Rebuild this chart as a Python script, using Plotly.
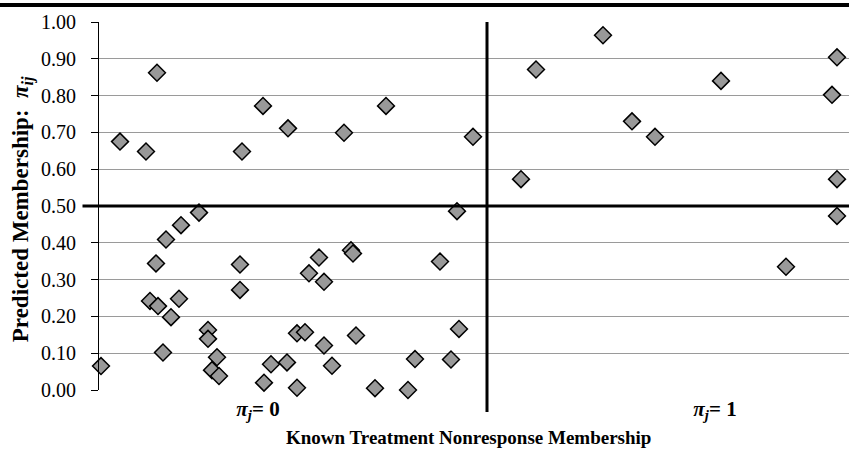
import plotly.graph_objects as go

# Left group: known membership pi_j = 0 ; right group: pi_j = 1
x_left = [2.1, 4.7, 5.8, 14.3, 16.4, 18.9, 24.5, 28.7, 37.4,
          0.2, 5.1, 5.7, 5.9, 6.7, 6.4, 7.2, 8.2, 8.0, 10.0, 10.9, 10.9,
          11.8, 11.3, 12.0, 14.1, 14.1, 16.5, 17.2, 18.8, 19.8, 19.8, 20.6,
          21.0, 22.0, 22.5, 22.5, 23.3, 25.2, 25.4, 25.7, 27.6, 30.9, 31.6,
          34.1, 35.2, 35.8, 36.0]
y_left = [0.675, 0.648, 0.862, 0.648, 0.772, 0.711, 0.699, 0.772, 0.688,
          0.065, 0.242, 0.344, 0.228, 0.409, 0.102, 0.198, 0.448, 0.248, 0.482, 0.163, 0.139,
          0.089, 0.054, 0.038, 0.341, 0.272, 0.020, 0.070, 0.075, 0.006, 0.154, 0.157,
          0.317, 0.360, 0.294, 0.121, 0.066, 0.380, 0.371, 0.148, 0.005, 0.000, 0.084,
          0.349, 0.083, 0.486, 0.166]
x_right = [42.2, 43.7, 50.4, 53.3, 55.6, 62.2, 73.8, 73.3, 73.8, 73.8, 68.7]
y_right = [0.573, 0.871, 0.964, 0.730, 0.688, 0.840, 0.904, 0.802, 0.573, 0.473, 0.335]

divider_x = 38.8
divider_y = 0.5
x_range = [0, 75]
y_ticks = [i / 10 for i in range(11)]
y_ticktext = [f"{v:.2f}" for v in y_ticks]
cat_vals = [15.9, 61.6]
cat_text = ["<b><i>π</i><sub><i>j</i></sub>= 0</b>", "<b><i>π</i><sub><i>j</i></sub>= 1</b>"]

serif = "Liberation Serif"

fig = go.Figure()
fig.add_trace(go.Scatter(
    x=x_left + x_right, y=y_left + y_right, mode="markers",
    marker=dict(symbol="diamond", size=13, color="#999999",
                line=dict(color="black", width=1.5)),
    showlegend=False, cliponaxis=False))

fig.update_layout(
    width=849, height=454,
    margin=dict(l=99, r=0, t=22, b=64),
    paper_bgcolor="white", plot_bgcolor="white",
    font=dict(family=serif, color="black", size=19),
    xaxis=dict(range=x_range, showgrid=False, zeroline=False, showline=False,
               tickvals=cat_vals, ticktext=cat_text, ticks="",
               ticklabelstandoff=4,
               tickfont=dict(family=serif, size=21), fixedrange=True),
    yaxis=dict(range=[0, 1], tickvals=y_ticks, ticktext=y_ticktext,
               showgrid=True, gridcolor="#9a9a9a", gridwidth=1,
               zeroline=False, showline=True, linecolor="black", linewidth=1,
               ticks="outside", ticklen=7, tickcolor="black",
               ticklabelstandoff=11,
               tickfont=dict(family=serif, size=20), fixedrange=True),
)

# thick reference lines
fig.add_shape(type="line", xref="x", yref="paper", x0=divider_x, x1=divider_x,
              y0=1, y1=-0.06, line=dict(color="black", width=3))
fig.add_shape(type="line", xref="paper", yref="y", x0=-0.022, x1=1,
              y0=divider_y, y1=divider_y, line=dict(color="black", width=3))
# top border line
fig.add_shape(type="line", xref="paper", yref="paper", x0=-0.14, x1=1,
              y0=1.046, y1=1.046, line=dict(color="black", width=4))

fig.add_annotation(xref="paper", yref="paper", x=-0.102, y=0.49,
                   text="<b>Predicted Membership:  <i>π</i><sub><i>ij</i></sub></b>",
                   textangle=-90, showarrow=False, font=dict(family=serif, size=23),
                   xanchor="center", yanchor="middle")
fig.add_annotation(xref="paper", yref="paper", x=0.492, y=-0.13,
                   text="<b>Known Treatment Nonresponse Membership</b>",
                   showarrow=False, font=dict(family=serif, size=19),
                   xanchor="center", yanchor="middle")

fig.write_html("out.html")
